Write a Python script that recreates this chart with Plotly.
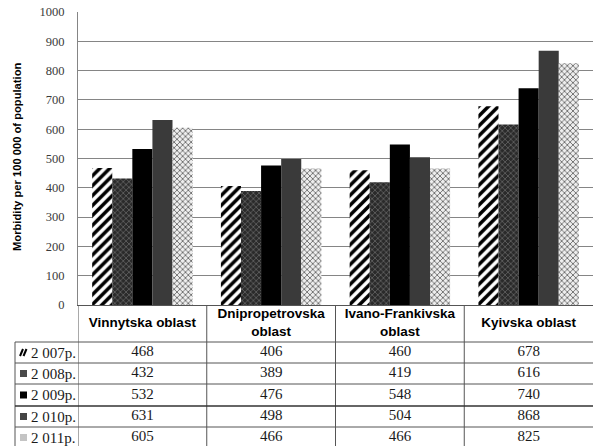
import plotly.graph_objects as go

# ---- data ----
regions = ["Vinnytska oblast", "Dnipropetrovska oblast",
           "Ivano-Frankivska oblast", "Kyivska oblast"]
header_labels = ["Vinnytska oblast", "Dnipropetrovska<br>oblast",
                 "Ivano-Frankivska<br>oblast", "Kyivska oblast"]
years = ["2 007p.", "2 008p.", "2 009p.", "2 010p.", "2 011p."]
v2007 = [468, 406, 460, 678]
v2008 = [432, 389, 419, 616]
v2009 = [532, 476, 548, 740]
v2010 = [631, 498, 504, 868]
v2011 = [605, 466, 466, 825]
series = [v2007, v2008, v2009, v2010, v2011]
y_ticks = [0, 100, 200, 300, 400, 500, 600, 700, 800, 900, 1000]

# ---- styling per year ----
styles = [
    dict(color="white", pattern=dict(shape="/", fgcolor="black", bgcolor="white",
                                     size=7, solidity=0.5, fgopacity=1, fillmode="overlay")),
    dict(color="#2a2a2a", pattern=dict(shape="x", fgcolor="#9a9a9a", bgcolor="#2a2a2a",
                                       size=4, solidity=0.2, fgopacity=1, fillmode="overlay")),
    dict(color="black"),
    dict(color="#3a3a3a"),
    dict(color="#eeeeee", pattern=dict(shape="x", fgcolor="#555555", bgcolor="#eeeeee",
                                       size=4, solidity=0.35, fgopacity=1, fillmode="overlay")),
]

W, H = 593, 446
L, R, T, B = 78, 0, 12, 0
PW, PH = W - L - R, H - T - B
AXIS_PY = 305          # pixel row of the chart's x axis / table top


def px_x(px):
    return (px - L) / PW


def px_y(py):
    return (H - py) / PH


fig = go.Figure()

for yr, vals, st in zip(years, series, styles):
    fig.add_trace(go.Bar(
        x=regions, y=vals, name=yr, marker=dict(line=dict(width=0), **st),
        showlegend=False, xaxis="x", yaxis="y",
    ))

# ---- data table under the chart (y2 measured in pixels from the bottom) ----
table_h = H - AXIS_PY
row_tops = [342, 363, 384, 406, 427, 448]
row_centers = [H - (row_tops[i] + row_tops[i + 1]) / 2 for i in range(5)]
header_center = H - (AXIS_PY + row_tops[0]) / 2

fig.add_trace(go.Scatter(
    x=regions, y=[header_center] * 4, text=header_labels, mode="text",
    textfont=dict(family="Liberation Sans", size=13.5, color="black", weight="bold"),
    xaxis="x2", yaxis="y2", showlegend=False, hoverinfo="skip",
))
for yc, vals in zip(row_centers, series):
    fig.add_trace(go.Scatter(
        x=regions, y=[yc] * 4, text=[str(v) for v in vals], mode="text",
        textfont=dict(family="Liberation Serif", size=15, color="#1a1a1a"),
        xaxis="x2", yaxis="y2", showlegend=False, hoverinfo="skip",
    ))

line_col = "#555555"
shapes = []
# vertical column lines
for b in [-0.5, 0.5, 1.5, 2.5]:
    shapes.append(dict(type="line", xref="x", yref="paper", x0=b, x1=b,
                       y0=px_y(AXIS_PY), y1=px_y(H), line=dict(color=line_col, width=1)))
# legend column left edge
shapes.append(dict(type="line", xref="paper", yref="paper", x0=px_x(15), x1=px_x(15),
                   y0=px_y(row_tops[0]), y1=px_y(H), line=dict(color=line_col, width=1)))
# row lines
for i, rt in enumerate(row_tops[:-1]):
    shapes.append(dict(type="line", xref="paper", yref="paper", x0=px_x(15), x1=1,
                       y0=px_y(rt), y1=px_y(rt),
                       line=dict(color="#333333" if i == 3 else line_col,
                                 width=1.6 if i == 3 else 1)))

# legend keys in the first column
key_x0, key_x1 = px_x(20), px_x(27)
annotations = []
for i, (yr, st) in enumerate(zip(years, styles)):
    cy = (row_tops[i] + row_tops[i + 1]) / 2
    y0, y1 = px_y(cy + 3.5), px_y(cy - 3.5)
    if i == 0:
        for dx in (0, 3.5):
            shapes.append(dict(type="line", xref="paper", yref="paper",
                               x0=px_x(20 + dx), x1=px_x(23 + dx), y0=y0, y1=y1,
                               line=dict(color="black", width=2)))
    else:
        fill = {1: "#4a4a4a", 2: "black", 3: "#444444", 4: "#c4c4c4"}[i]
        shapes.append(dict(type="rect", xref="paper", yref="paper",
                           x0=key_x0, x1=key_x1, y0=y0, y1=y1,
                           fillcolor=fill, line=dict(width=0)))
    annotations.append(dict(x=px_x(29), y=px_y(cy), xref="paper", yref="paper",
                            text=yr, showarrow=False, xanchor="left", yanchor="middle",
                            font=dict(family="Liberation Serif", size=15, color="#1a1a1a")))

annotations.append(dict(
    x=px_x(17), y=px_y(157), xref="paper", yref="paper",
    text="<b>Morbidity per 100 000 of population</b>", textangle=-90, showarrow=False,
    xanchor="center", yanchor="middle",
    font=dict(family="Liberation Sans", size=11.2, color="black"),
))

chart_bottom = px_y(AXIS_PY)

fig.update_layout(
    width=W, height=H, showlegend=False,
    margin=dict(l=L, r=R, t=T, b=B, autoexpand=False),
    paper_bgcolor="white", plot_bgcolor="white",
    barmode="group", bargap=0.22, bargroupgap=0,
    xaxis=dict(domain=[0, 1], anchor="y", type="category", categoryarray=regions,
               range=[-0.5, 3.5], showticklabels=False, showline=True,
               linecolor="#555555", linewidth=1, ticks="", showgrid=False,
               automargin=False),
    yaxis=dict(domain=[chart_bottom, 1], range=[0, 1000], tickvals=y_ticks,
               showgrid=True, gridcolor="#858585", gridwidth=1.3,
               showline=True, linecolor="#858585", linewidth=1,
               ticks="", ticklabelstandoff=10, zeroline=False, automargin=False,
               tickfont=dict(family="Liberation Serif", size=12.5, color="#3a3a3a")),
    xaxis2=dict(domain=[0, 1], anchor="y2", type="category", categoryarray=regions,
                range=[-0.5, 3.5], visible=False, automargin=False),
    yaxis2=dict(domain=[0, chart_bottom], range=[0, table_h], visible=False,
                automargin=False),
    shapes=shapes, annotations=annotations,
)

fig.write_html("out.html")
